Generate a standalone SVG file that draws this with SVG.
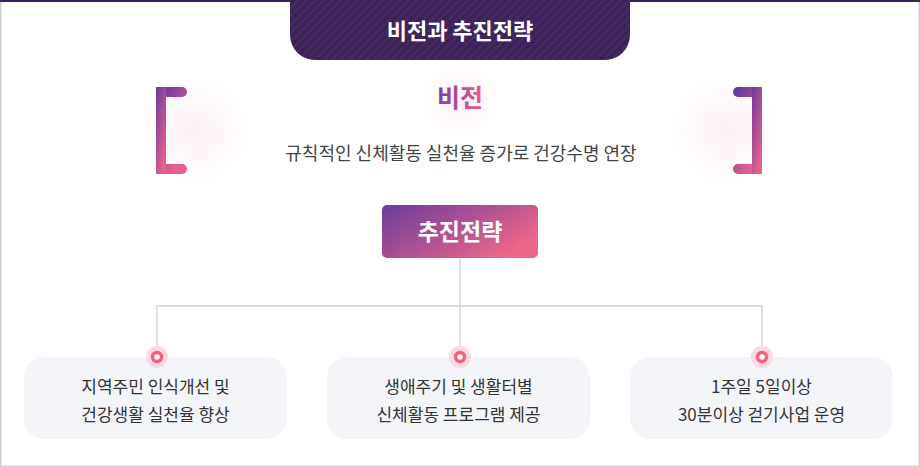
<svg xmlns="http://www.w3.org/2000/svg" width="920" height="467" viewBox="0 0 920 467">
<defs>
<pattern id="stripes" width="6" height="6" patternUnits="userSpaceOnUse" patternTransform="rotate(45)">
<rect width="6" height="6" fill="#3b2257"/>
<rect width="2" height="6" fill="#452a63"/>
</pattern>
<linearGradient id="brk" x1="0" y1="0" x2="0.6" y2="1">
<stop offset="0" stop-color="#6a3a9c"/>
<stop offset="1" stop-color="#e5628e"/>
</linearGradient>
<linearGradient id="btn" x1="0" y1="0" x2="1" y2="0.6">
<stop offset="0" stop-color="#6a3a9c"/>
<stop offset="1" stop-color="#ec6689"/>
</linearGradient>
<linearGradient id="vt" x1="0" y1="0" x2="1" y2="0">
<stop offset="0" stop-color="#7a3fa6"/>
<stop offset="1" stop-color="#e3608f"/>
</linearGradient>
<radialGradient id="glow">
<stop offset="0" stop-color="#fbe6ef" stop-opacity="0.6"/>
<stop offset="1" stop-color="#fbe6ef" stop-opacity="0"/>
</radialGradient>
<style>
.t{font-family:"Noto Sans CJK KR","Noto Sans",sans-serif;text-anchor:middle}
.item{fill:#f4f5f9}
.itxt{font-size:17px;fill:#333}
.conn{fill:none;stroke:#cfcfdc;stroke-width:1.3}
</style>
</defs>
<rect x="0" y="0" width="920" height="467" fill="#fff"/>
<rect x="0.75" y="1" width="918.5" height="465.25" fill="none" stroke="#cfcfdc" stroke-width="1.5"/>
<rect x="0" y="0" width="920" height="2" fill="#3b2257"/>
<g id="title">
<path d="M290,0 H630 V35 A25,25 0 0 1 605,60 H315 A25,25 0 0 1 290,35 Z" fill="url(#stripes)"/>
<text class="t" x="460" y="39" font-size="22" font-weight="700" fill="#fff">비전과 추진전략</text>
</g>
<g id="vision">
<circle cx="195" cy="130" r="55" fill="url(#glow)"/>
<circle cx="725" cy="130" r="55" fill="url(#glow)"/>
<circle cx="460" cy="100" r="40" fill="url(#glow)"/>
<path d="M161,92 H182 M161,92 V169 H182" fill="none" stroke="url(#brk)" stroke-width="10" stroke-linecap="round" stroke-linejoin="miter"/>
<rect x="156" y="87" width="10" height="87" fill="url(#brk)"/>
<path d="M757,92 H738 M757,92 V169 H738" fill="none" stroke="url(#brk)" stroke-width="10" stroke-linecap="round"/>
<rect x="752" y="87" width="10" height="87" fill="url(#brk)"/>
<text class="t" x="460" y="107" font-size="25" font-weight="700" fill="url(#vt)">비전</text>
<text class="t" x="461" y="160" font-size="18" fill="#444">규칙적인 신체활동 실천율 증가로 건강수명 연장</text>
</g>
<g id="strategy">
<rect x="382" y="205" width="156" height="53" rx="5" fill="url(#btn)"/>
<text class="t" x="460" y="240" font-size="23" font-weight="700" fill="#fff">추진전략</text>
</g>
<g id="connectors">
<path class="conn" d="M460,258 V306 M157,357 V306 H762 V357 M460,306 V357"/>
</g>
<g id="item1">
<rect class="item" x="24" y="357" width="263" height="82" rx="20"/>
<circle cx="157" cy="357" r="11" fill="#fbd9e1"/>
<circle cx="157" cy="357" r="4.5" fill="#fff" stroke="#f2627f" stroke-width="3.5"/>
<text class="t itxt" x="155.5" y="393">지역주민 인식개선 및</text>
<text class="t itxt" x="155.5" y="421">건강생활 실천율 향상</text>
</g>
<g id="item2">
<rect class="item" x="327" y="357" width="263" height="82" rx="20"/>
<circle cx="460" cy="357" r="11" fill="#fbd9e1"/>
<circle cx="460" cy="357" r="4.5" fill="#fff" stroke="#f2627f" stroke-width="3.5"/>
<text class="t itxt" x="458.5" y="393">생애주기 및 생활터별</text>
<text class="t itxt" x="458.5" y="421">신체활동 프로그램 제공</text>
</g>
<g id="item3">
<rect class="item" x="630" y="357" width="263" height="82" rx="20"/>
<circle cx="762" cy="357" r="11" fill="#fbd9e1"/>
<circle cx="762" cy="357" r="4.5" fill="#fff" stroke="#f2627f" stroke-width="3.5"/>
<text class="t itxt" x="761.5" y="393">1주일 5일이상</text>
<text class="t itxt" x="761.5" y="421">30분이상 걷기사업 운영</text>
</g>
</svg>
